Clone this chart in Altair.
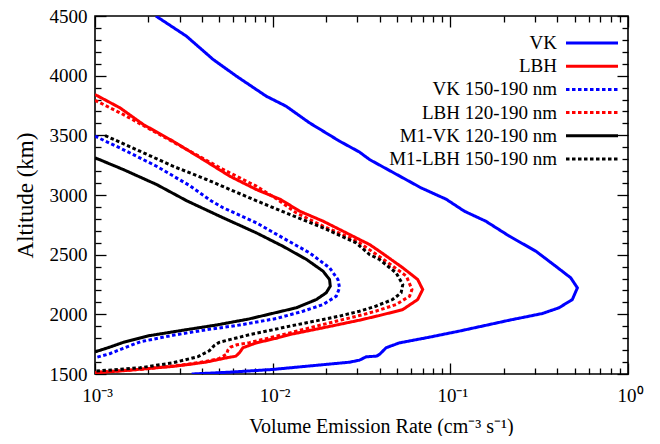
import altair as alt
import pandas as pd

# ---------------- data ----------------
series_names = ["VK", "LBH", "VK 150-190 nm", "LBH 120-190 nm",
                "M1-VK 120-190 nm", "M1-LBH 150-190 nm"]
series_colors = ["#0000ff", "#ff0000", "#0000ff", "#ff0000", "#000000", "#000000"]
series_dashes = [[1, 0], [1, 0], [3.5, 2.5], [3.5, 2.5], [1, 0], [3.5, 2.5]]

vk_rate = [0.0022, 0.00327, 0.00462, 0.00625, 0.0092, 0.0119, 0.0161, 0.0238, 0.0308,
           0.0351, 0.054, 0.0684, 0.0946, 0.12, 0.158, 0.215, 0.303, 0.392, 0.476,
           0.519, 0.486, 0.409, 0.33, 0.215, 0.112, 0.073, 0.0517, 0.0435, 0.040,
           0.0385, 0.0336, 0.0308, 0.0271, 0.0155, 0.010, 0.0057, 0.0035]
vk_alt = [4500, 4331, 4136, 3996, 3828, 3744, 3605, 3451, 3360,
          3297, 3144, 3060, 2965, 2864, 2781, 2655, 2529, 2403, 2306,
          2222, 2124, 2055, 2007, 1951, 1859, 1803, 1761, 1720, 1665,
          1650, 1644, 1616, 1599, 1565, 1538, 1515, 1500]

lbh_rate = [0.001, 0.00138, 0.00187, 0.00275, 0.00406, 0.00573, 0.00809, 0.0111, 0.0142,
            0.0192, 0.0271, 0.0308, 0.0351, 0.0399, 0.054, 0.0655, 0.0699, 0.0655, 0.054,
            0.0399, 0.0351, 0.0308, 0.0192, 0.0125, 0.0105, 0.0081, 0.0068, 0.0065, 0.0062,
            0.0056, 0.0042, 0.0028, 0.0018, 0.00144, 0.001]
lbh_alt = [3842, 3731, 3591, 3451, 3297, 3158, 3046, 2962, 2864,
           2781, 2669, 2627, 2585, 2529, 2390, 2292, 2208, 2124, 2040,
           1990, 1971, 1951, 1887, 1831, 1800, 1761, 1720, 1678, 1649,
           1638, 1599, 1565, 1540, 1527, 1510]

vk150_rate = [0.001, 0.00144, 0.00222, 0.0034, 0.00452, 0.00526, 0.00809, 0.0114, 0.0161,
              0.0209, 0.0233, 0.0238, 0.0228, 0.0192, 0.0148, 0.0105, 0.0065, 0.0042,
              0.00275, 0.0018, 0.00144, 0.00121, 0.001]
vk150_alt = [3493, 3381, 3241, 3080, 2950, 2893, 2767, 2641, 2516,
             2390, 2292, 2222, 2152, 2082, 2026, 1965, 1910, 1870,
             1825, 1770, 1715, 1670, 1636]

lbh120_rate = [0.001, 0.00144, 0.00222, 0.00342, 0.00526, 0.00809, 0.0105, 0.0136, 0.0192,
               0.0265, 0.0308, 0.0435, 0.0566, 0.0608, 0.059, 0.0495, 0.038, 0.0308,
               0.0192, 0.0125, 0.0105, 0.0074, 0.0063, 0.0058, 0.0056, 0.0055, 0.0050,
               0.0042, 0.0031, 0.0018, 0.001]
lbh120_alt = [3794, 3675, 3521, 3367, 3214, 3074, 2968, 2850, 2739,
              2650, 2600, 2445, 2320, 2208, 2152, 2082, 2026, 1990,
              1915, 1845, 1817, 1763, 1745, 1725, 1700, 1665, 1630,
              1605, 1575, 1538, 1515]

m1vk_rate = [0.001, 0.00144, 0.00222, 0.0033, 0.00526, 0.00809, 0.0114, 0.0155, 0.0192,
             0.0209, 0.0211, 0.020, 0.0176, 0.0136, 0.0098, 0.0073, 0.0048, 0.0031,
             0.002, 0.00144, 0.00121, 0.0011, 0.001]
m1vk_alt = [3312, 3214, 3088, 2950, 2809, 2683, 2571, 2460, 2362,
            2292, 2236, 2180, 2124, 2055, 2005, 1960, 1910, 1866,
            1820, 1765, 1725, 1705, 1685]

m1lbh_rate = [0.00114, 0.00179, 0.00275, 0.00424, 0.0078, 0.01246, 0.0192, 0.0295, 0.0351,
              0.0399, 0.0495, 0.054, 0.0528, 0.0473, 0.038, 0.0308, 0.0238, 0.0155,
              0.0125, 0.0100, 0.0075, 0.0058, 0.0050, 0.0047, 0.0044, 0.0038, 0.00275,
              0.00179, 0.001]
m1lbh_alt = [3498, 3367, 3241, 3130, 2962, 2837, 2725, 2599, 2501,
             2460, 2348, 2250, 2180, 2124, 2068, 2026, 1985, 1929,
             1901, 1870, 1831, 1790, 1765, 1740, 1695, 1645, 1594,
             1552, 1524]

x_major = [0.001, 0.01, 0.1, 1]
x_minor = [m * d for d in [0.001, 0.01, 0.1] for m in range(2, 10)]
y_major = [1500, 2000, 2500, 3000, 3500, 4000, 4500]
y_minor = [v for v in range(1500, 4501, 100) if v % 500 != 0]

x_title = "Volume Emission Rate (cm\u207b\u00b3 s\u207b\u00b9)"
y_title = "Altitude (km)"

# ---------------- tables ----------------
series_data = [(vk_rate, vk_alt), (lbh_rate, lbh_alt), (vk150_rate, vk150_alt),
               (lbh120_rate, lbh120_alt), (m1vk_rate, m1vk_alt), (m1lbh_rate, m1lbh_alt)]
rows = []
for name, (rates, alts) in zip(series_names, series_data):
    for i, (r, a) in enumerate(zip(rates, alts)):
        rows.append({"series": name, "rate": r, "alt": a, "idx": i})
df = pd.DataFrame(rows)

W, H = 533, 358
FONT = "Liberation Serif"
MAJ, MIN = 11, 6

xs = alt.Scale(type="log", domain=[0.001, 1], nice=False)
ys = alt.Scale(domain=[1500, 4500], nice=False, zero=False)

x_all = x_major + x_minor
y_all = y_major + y_minor

LG = "log(datum.value)/LN10"
x_is_major = f"abs({LG} - round({LG})) < 0.01"
y_is_major = "datum.value % 500 == 0"

label_expr = (f"abs({LG}+3)<0.01 ? '10\u207b\u00b3' : abs({LG}+2)<0.01 ? '10\u207b\u00b2' : "
              f"abs({LG}+1)<0.01 ? '10\u207b\u00b9' : abs({LG})<0.01 ? '10\u2070' : ''")

# inward ticks are drawn as the first few pixels of dashed grid lines
x_grid_dash = {"condition": {"test": x_is_major, "value": [MAJ, 2000]}, "value": [MIN, 2000]}
y_grid_dash = {"condition": {"test": y_is_major, "value": [MAJ, 2000]}, "value": [MIN, 2000]}

x_axis = alt.Axis(orient="bottom", values=x_all, labelExpr=label_expr, labelOverlap=False,
                  ticks=False, tickSize=0, domain=False,
                  grid=True, gridColor="black", gridWidth=1.3, gridOpacity=1,
                  gridDash=x_grid_dash,
                  labelFlush=False, labelPadding=12, labelOffset=2,
                  labelFont=FONT, labelFontSize=19, labelColor="black",
                  title=x_title, titleFont=FONT, titleFontSize=20,
                  titleFontWeight="normal", titleColor="black",
                  titleX=286, titleY=58,
                  titleAlign="center", titleBaseline="alphabetic")
y_axis = alt.Axis(orient="left", values=y_all, format="d",
                  labelExpr=f"{y_is_major} ? datum.label : ''", labelOverlap=False,
                  ticks=False, tickSize=0, domain=False,
                  grid=True, gridColor="black", gridWidth=1.3, gridOpacity=1,
                  gridDash=y_grid_dash,
                  labelFlush=False, labelPadding=8,
                  labelFont=FONT, labelFontSize=19, labelColor="black",
                  title=y_title, titleFont=FONT, titleFontSize=23,
                  titleFontWeight="normal", titleColor="black",
                  titleX=-70, titleY=H / 2,
                  titleAlign="center", titleBaseline="middle", titleAngle=270)
x_axis_top = alt.Axis(orient="top", values=x_all, labels=False, ticks=False, domain=False,
                      grid=True, gridColor="black", gridWidth=1.3, gridOpacity=1,
                      gridDash=x_grid_dash, title=None)
y_axis_right = alt.Axis(orient="right", values=y_all, labels=False, ticks=False, domain=False,
                        grid=True, gridColor="black", gridWidth=1.3, gridOpacity=1,
                        gridDash=y_grid_dash, title=None)

# one line layer per series (colour and dash set on the mark)
line_layers = []
for k, (name, col, dash) in enumerate(zip(series_names, series_colors, series_dashes)):
    line_layers.append(
        alt.Chart(df).transform_filter(alt.datum.series == name).mark_line(
            strokeWidth=3, clip=True, color=col, strokeDash=dash).encode(
            x=alt.X("rate:Q", scale=xs, axis=x_axis if k == 0 else None),
            y=alt.Y("alt:Q", scale=ys, axis=y_axis if k == 0 else None),
            order=alt.Order("idx:Q"),
        )
    )

# invisible layer that carries the top and right axes (their grid stubs are the ticks)
frame_axes = alt.Chart(df).mark_point(opacity=0).encode(
    x=alt.X("rate:Q", scale=xs, axis=x_axis_top),
    y=alt.Y("alt:Q", scale=ys, axis=y_axis_right),
)

# legend inside the plot, top right: one row per series
ROW0, ROW_STEP = 27, 23.2
legend_layers = []
for i, name in enumerate(series_names):
    ypos = ROW0 + ROW_STEP * i
    one = pd.DataFrame({"label": [name]})
    legend_layers.append(
        alt.Chart(one).mark_text(align="right", baseline="middle", font=FONT,
                                 fontSize=19, color="black").encode(
            text="label:N", x=alt.value(462), y=alt.value(ypos))
    )
    legend_layers.append(
        alt.Chart(one).mark_rule(strokeWidth=3, color=series_colors[i],
                                 strokeDash=series_dashes[i]).encode(
            x=alt.value(471), x2=alt.value(523), y=alt.value(ypos))
    )

chart = alt.layer(
    *line_layers, frame_axes, *legend_layers
).resolve_axis(
    x="independent", y="independent"
).properties(
    width=W, height=H,
    padding={"left": 87, "top": 8, "right": 24, "bottom": 62},
    autosize=alt.AutoSizeParams(type="none"),
).configure_view(
    stroke="black", strokeWidth=1.6
)

chart.save("out.html", embed_options={"renderer": "svg", "actions": False})
